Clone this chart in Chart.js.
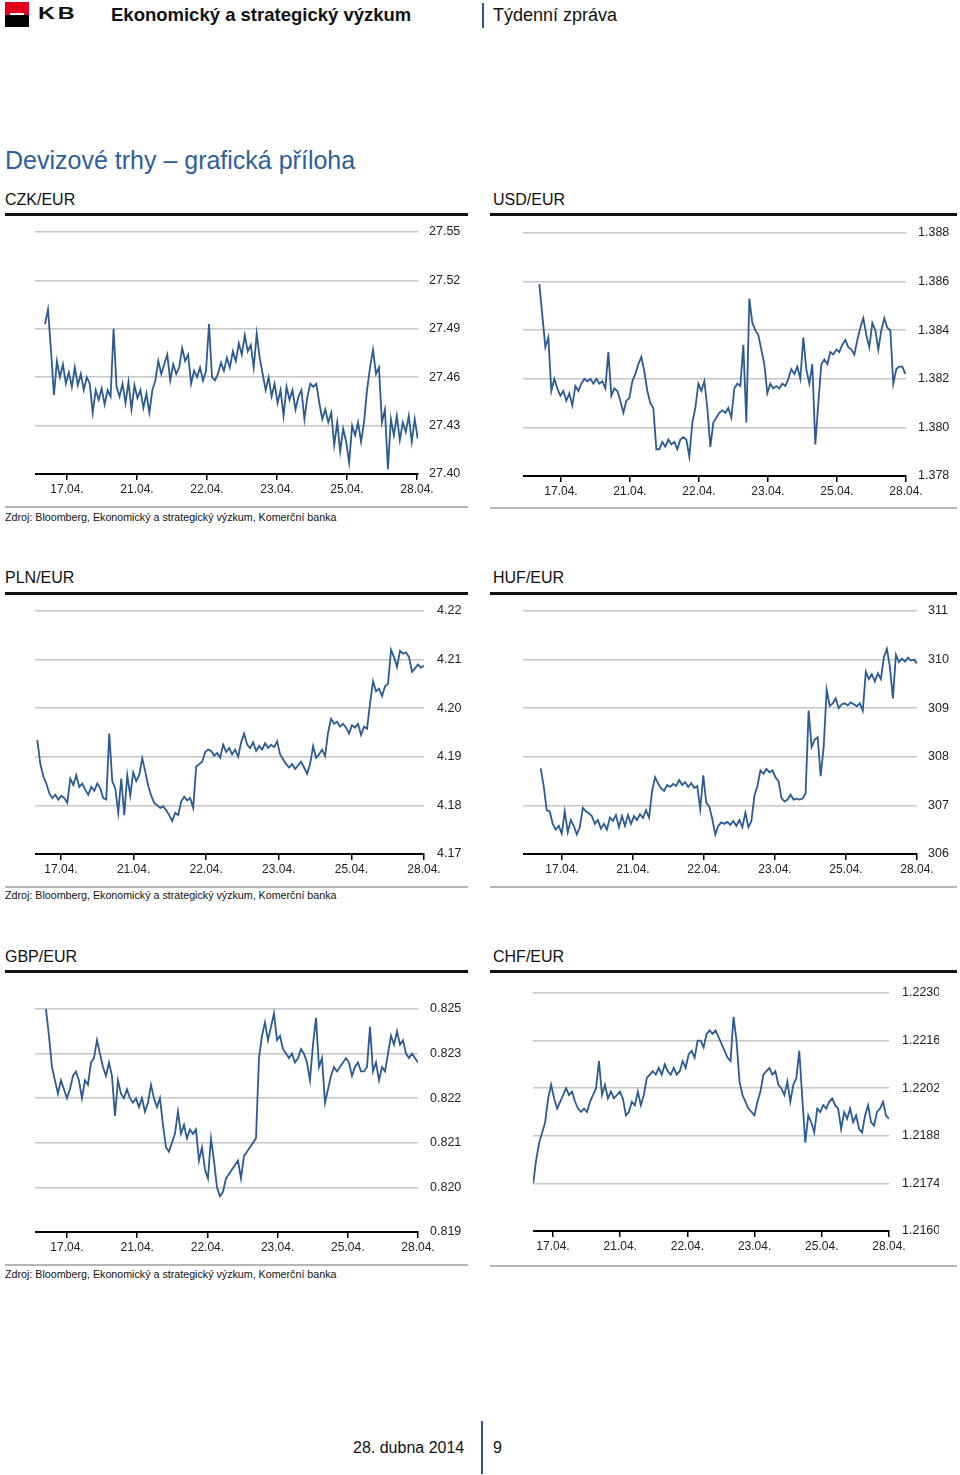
<!DOCTYPE html>
<html lang="cs">
<head>
<meta charset="utf-8">
<title>Devizové trhy – grafická příloha</title>
<script src="https://cdn.jsdelivr.net/npm/chart.js@4.4.1/dist/chart.umd.min.js"></script>
<style>
    html, body { margin: 0; padding: 0; background: #fff; }
    body {
        position: relative; width: 960px; height: 1475px; overflow: hidden;
        font-family: "Liberation Sans", Arial, sans-serif; color: #111;
    }
    .abs { position: absolute; white-space: nowrap; }
    .logo-red { left: 5px; top: 2px; width: 24px; height: 13px; background: #e3001b; }
    .logo-black { left: 5px; top: 15px; width: 24px; height: 12px; background: #000; }
    .logo-dash { left: 10px; top: 13px; width: 14px; height: 2px; background: #fff; }
    .kb { left: 38px; top: 5px; font-size: 17px; line-height: 17px; font-weight: bold; letter-spacing: 2px; transform: scaleX(1.38); transform-origin: left top; }
    .head { top: 6px; font-size: 18px; line-height: 18px; }
    .vline { width: 2px; background: #2b5a8e; }
    .title { left: 5px; top: 146px; font-size: 25px; line-height: 28px; color: #2d5f9a; }
    .ptitle { font-size: 16px; line-height: 18px; }
    .thick { height: 3px; background: #111; }
    .thin { height: 2px; background: #b5b5b5; }
    .src { left: 5px; font-size: 10.7px; line-height: 13px; }
    canvas { position: absolute; }
</style>
</head>
<body>
<div class="abs logo-red"></div>
<div class="abs logo-black"></div>
<div class="abs logo-dash"></div>
<div class="abs kb">KB</div>
<div class="abs head" style="left:111px;font-weight:bold;font-size:18.5px;">Ekonomický a strategický výzkum</div>
<div class="abs vline" style="left:482px;top:3px;height:25px;"></div>
<div class="abs head" style="left:493px;">Týdenní zpráva</div>

<div class="abs title">Devizové trhy – grafická příloha</div>

<div class="abs ptitle" style="left:5px;top:191px;">CZK/EUR</div>
<div class="abs ptitle" style="left:493px;top:191px;">USD/EUR</div>
<div class="abs thick" style="left:5px;top:213px;width:463px;"></div>
<div class="abs thick" style="left:490px;top:213px;width:467px;"></div>
<div class="abs thin" style="left:5px;top:506px;width:463px;"></div>
<div class="abs thin" style="left:490px;top:507px;width:467px;"></div>
<div class="abs src" style="top:511px;">Zdroj: Bloomberg, Ekonomický a strategický výzkum, Komerční banka</div>

<div class="abs ptitle" style="left:5px;top:569px;">PLN/EUR</div>
<div class="abs ptitle" style="left:493px;top:569px;">HUF/EUR</div>
<div class="abs thick" style="left:5px;top:592px;width:463px;"></div>
<div class="abs thick" style="left:490px;top:592px;width:467px;"></div>
<div class="abs thin" style="left:5px;top:886px;width:463px;"></div>
<div class="abs thin" style="left:490px;top:886px;width:467px;"></div>
<div class="abs src" style="top:889px;">Zdroj: Bloomberg, Ekonomický a strategický výzkum, Komerční banka</div>

<div class="abs ptitle" style="left:5px;top:948px;">GBP/EUR</div>
<div class="abs ptitle" style="left:493px;top:948px;">CHF/EUR</div>
<div class="abs thick" style="left:5px;top:970px;width:463px;"></div>
<div class="abs thick" style="left:490px;top:970px;width:467px;"></div>
<div class="abs thin" style="left:5px;top:1264px;width:463px;"></div>
<div class="abs thin" style="left:490px;top:1265px;width:467px;"></div>
<div class="abs src" style="top:1268px;">Zdroj: Bloomberg, Ekonomický a strategický výzkum, Komerční banka</div>

<canvas id="czkChart"></canvas>
<canvas id="usdChart"></canvas>
<canvas id="plnChart"></canvas>
<canvas id="hufChart"></canvas>
<canvas id="gbpChart"></canvas>
<canvas id="chfChart"></canvas>

<div class="abs" style="left:353px;top:1439px;font-size:16px;line-height:18px;">28. dubna 2014</div>
<div class="abs vline" style="left:481px;top:1421px;height:53px;"></div>
<div class="abs" style="left:493px;top:1439px;font-size:16px;line-height:18px;">9</div>

<script>
// popisky osy x (začátky obchodních dnů, pozice 1..6)
const xTicks = [1, 2, 3, 4, 5, 6];
const xLabels = ['17.04.', '21.04.', '22.04.', '23.04.', '25.04.', '28.04.'];

// CZK/EUR
const czkTicks = [27.40, 27.43, 27.46, 27.49, 27.52, 27.55];
const czkLabels = ['27.40', '27.43', '27.46', '27.49', '27.52', '27.55'];
const czkFrom = 0.686, czkTo = 6.01;
const czkValues = [27.493, 27.502, 27.477, 27.449, 27.470, 27.460, 27.468, 27.456, 27.463, 27.454,
    27.466, 27.455, 27.462, 27.452, 27.460, 27.456, 27.438, 27.452, 27.446, 27.453,
    27.443, 27.452, 27.448, 27.490, 27.454, 27.448, 27.456, 27.444, 27.457, 27.440,
    27.455, 27.447, 27.452, 27.441, 27.450, 27.438, 27.452, 27.458, 27.470, 27.462,
    27.468, 27.474, 27.458, 27.468, 27.462, 27.466, 27.478, 27.470, 27.474, 27.456,
    27.464, 27.460, 27.466, 27.458, 27.464, 27.493, 27.460, 27.458, 27.462, 27.469,
    27.464, 27.472, 27.466, 27.476, 27.470, 27.481, 27.474, 27.486, 27.476, 27.480,
    27.466, 27.487, 27.472, 27.462, 27.452, 27.460, 27.448, 27.456, 27.444, 27.452,
    27.436, 27.454, 27.446, 27.452, 27.440, 27.448, 27.452, 27.434, 27.448, 27.456,
    27.454, 27.456, 27.444, 27.434, 27.440, 27.432, 27.438, 27.418, 27.432, 27.414,
    27.428, 27.420, 27.407, 27.430, 27.424, 27.432, 27.420, 27.432, 27.452, 27.466,
    27.477, 27.462, 27.466, 27.432, 27.440, 27.403, 27.434, 27.424, 27.436, 27.421,
    27.432, 27.426, 27.436, 27.420, 27.434, 27.422];

// USD/EUR
const usdTicks = [1.378, 1.380, 1.382, 1.384, 1.386, 1.388];
const usdLabels = ['1.378', '1.380', '1.382', '1.384', '1.386', '1.388'];
const usdFrom = 0.686, usdTo = 5.99;
const usdValues = [1.3859, 1.3846, 1.3833, 1.3837, 1.3815, 1.3820, 1.3816, 1.3813, 1.3815, 1.3811,
    1.3814, 1.3809, 1.3817, 1.3815, 1.3818, 1.3820, 1.3819, 1.3820, 1.3818, 1.3820,
    1.3818, 1.3819, 1.3816, 1.3831, 1.3813, 1.3816, 1.3815, 1.3811, 1.3806, 1.3811,
    1.3812, 1.3819, 1.3822, 1.3826, 1.3829, 1.3823, 1.3815, 1.3810, 1.3808, 1.3791,
    1.3791, 1.3794, 1.3792, 1.3795, 1.3793, 1.3794, 1.3791, 1.3795, 1.3796, 1.3795,
    1.3788, 1.3802, 1.3808, 1.3818, 1.3815, 1.3819, 1.3808, 1.3792, 1.3802, 1.3804,
    1.3806, 1.3807, 1.3806, 1.3808, 1.3804, 1.3816, 1.3818, 1.3817, 1.3834, 1.3802,
    1.3853, 1.3843, 1.3840, 1.3838, 1.3832, 1.3826, 1.3814, 1.3818, 1.3816, 1.3817,
    1.3816, 1.3818, 1.3817, 1.3820, 1.3824, 1.3822, 1.3825, 1.3820, 1.3837, 1.3824,
    1.3818, 1.3826, 1.3793, 1.3810, 1.3826, 1.3828, 1.3826, 1.3831, 1.3830, 1.3832,
    1.3831, 1.3834, 1.3836, 1.3833, 1.3832, 1.3830, 1.3836, 1.3841, 1.3845, 1.3838,
    1.3833, 1.3843, 1.3840, 1.3832, 1.3840, 1.3845, 1.3841, 1.3840, 1.3818, 1.3824,
    1.3825, 1.3825, 1.3822];

// PLN/EUR
const plnTicks = [4.17, 4.18, 4.19, 4.20, 4.21, 4.22];
const plnLabels = ['4.17', '4.18', '4.19', '4.20', '4.21', '4.22'];
const plnFrom = 0.674, plnTo = 6.0;
const plnValues = [4.1935, 4.1885, 4.1860, 4.1845, 4.1825, 4.1815, 4.1822, 4.1812, 4.1820, 4.1815,
    4.1805, 4.1855, 4.1842, 4.1862, 4.1838, 4.1845, 4.1832, 4.1822, 4.1838, 4.1830,
    4.1845, 4.1835, 4.1815, 4.1812, 4.1948, 4.1850, 4.1835, 4.1785, 4.1855, 4.1780,
    4.1862, 4.1820, 4.1868, 4.1850, 4.1862, 4.1897, 4.1870, 4.1840, 4.1820, 4.1805,
    4.1800, 4.1795, 4.1798, 4.1790, 4.1780, 4.1768, 4.1785, 4.1780, 4.1808, 4.1818,
    4.1810, 4.1815, 4.1795, 4.1880, 4.1885, 4.1890, 4.1910, 4.1915, 4.1912, 4.1902,
    4.1908, 4.1898, 4.1925, 4.1910, 4.1918, 4.1905, 4.1915, 4.1900, 4.1930, 4.1948,
    4.1925, 4.1918, 4.1930, 4.1912, 4.1922, 4.1915, 4.1928, 4.1918, 4.1925, 4.1920,
    4.1932, 4.1905, 4.1895, 4.1885, 4.1878, 4.1885, 4.1875, 4.1882, 4.1890, 4.1878,
    4.1865, 4.1885, 4.1922, 4.1898, 4.1905, 4.1915, 4.1902, 4.1950, 4.1978, 4.1968,
    4.1972, 4.1962, 4.1968, 4.1960, 4.1948, 4.1965, 4.1960, 4.1968, 4.1945, 4.1962,
    4.1958, 4.2010, 4.2055, 4.2035, 4.2040, 4.2025, 4.2045, 4.2050, 4.2120, 4.2105,
    4.2085, 4.2118, 4.2112, 4.2115, 4.2105, 4.2075, 4.2082, 4.2090, 4.2083, 4.2088];

// HUF/EUR
const hufTicks = [306, 307, 308, 309, 310, 311];
const hufLabels = ['306', '307', '308', '309', '310', '311'];
const hufFrom = 0.700, hufTo = 6.0;
const hufValues = [307.76, 307.40, 306.90, 306.88, 306.62, 306.50, 306.58, 306.42, 306.88, 306.45,
    306.70, 306.58, 306.40, 306.55, 306.95, 306.88, 306.84, 306.78, 306.62, 306.70,
    306.52, 306.62, 306.50, 306.75, 306.68, 306.80, 306.55, 306.78, 306.58, 306.80,
    306.62, 306.78, 306.70, 306.82, 306.74, 306.90, 306.75, 307.30, 307.58, 307.45,
    307.35, 307.30, 307.42, 307.38, 307.44, 307.40, 307.52, 307.42, 307.48, 307.38,
    307.46, 307.36, 307.40, 306.92, 307.62, 307.05, 306.98, 306.72, 306.40, 306.58,
    306.65, 306.62, 306.66, 306.60, 306.68, 306.58, 306.70, 306.55, 306.85, 306.55,
    306.68, 307.20, 307.40, 307.72, 307.65, 307.75, 307.68, 307.72, 307.58, 307.50,
    307.15, 307.08, 307.12, 307.22, 307.12, 307.14, 307.12, 307.14, 307.25, 308.95,
    308.20, 308.35, 308.40, 307.60, 308.20, 309.38, 309.05, 309.10, 309.20, 309.00,
    309.08, 309.10, 309.06, 309.12, 309.08, 309.04, 309.10, 308.95, 309.75, 309.60,
    309.70, 309.55, 309.72, 309.60, 310.05, 310.22, 309.85, 309.20, 310.10, 309.95,
    310.02, 309.96, 310.04, 309.98, 310.00, 309.92];

// GBP/EUR (horní popisek v originále 0.825)
const gbpTicks = [0.819, 0.820, 0.821, 0.822, 0.823, 0.824];
const gbpLabels = ['0.819', '0.820', '0.821', '0.822', '0.823', '0.825'];
const gbpFrom = 0.70, gbpTo = 6.0;
const gbpValues = [0.8240, 0.8234, 0.8227, 0.8224, 0.8221, 0.8224, 0.8222, 0.8220, 0.8222, 0.8225,
    0.8226, 0.8224, 0.8220, 0.8224, 0.8223, 0.8228, 0.8229, 0.8233, 0.8230, 0.8227,
    0.8225, 0.8228, 0.8225, 0.8216, 0.8224, 0.8221, 0.8220, 0.8222, 0.8220, 0.8219,
    0.8220, 0.8218, 0.8220, 0.8217, 0.8219, 0.8223, 0.8220, 0.8218, 0.8220, 0.8214,
    0.8209, 0.8208, 0.8210, 0.8212, 0.8217, 0.8212, 0.8214, 0.8211, 0.8213, 0.8212,
    0.8213, 0.8206, 0.8209, 0.8204, 0.8202, 0.8211, 0.8206, 0.8200, 0.8198, 0.8199,
    0.8202, 0.8203, 0.8204, 0.8205, 0.8206, 0.8202, 0.8207, 0.8208, 0.8209, 0.8210,
    0.8211, 0.8229, 0.8234, 0.8237, 0.8233, 0.8236, 0.8239, 0.8233, 0.8234, 0.8231,
    0.8230, 0.8229, 0.8230, 0.8228, 0.8229, 0.8231, 0.8230, 0.8228, 0.8224, 0.8232,
    0.8238, 0.8227, 0.8229, 0.8219, 0.8222, 0.8225, 0.8227, 0.8226, 0.8227, 0.8228,
    0.8229, 0.8228, 0.8225, 0.8227, 0.8228, 0.8226, 0.8226, 0.8227, 0.8236, 0.8226,
    0.8228, 0.8224, 0.8227, 0.8226, 0.8230, 0.8234, 0.8232, 0.8235, 0.8232, 0.8233,
    0.8230, 0.8229, 0.8230, 0.8229, 0.8228];

// CHF/EUR
const chfTicks = [1.2160, 1.2174, 1.2188, 1.2202, 1.2216, 1.2230];
const chfLabels = ['1.2160', '1.2174', '1.2188', '1.2202', '1.2216', '1.2230'];
const chfFrom = 0.705, chfTo = 6.0;
const chfValues = [1.2174, 1.2181, 1.2186, 1.2189, 1.2192, 1.2199, 1.2203, 1.2199, 1.2196, 1.2198,
    1.2200, 1.2202, 1.2200, 1.2201, 1.2198, 1.2196, 1.2195, 1.2196, 1.2195, 1.2198,
    1.2200, 1.2202, 1.2210, 1.2200, 1.2203, 1.2199, 1.2201, 1.2199, 1.2200, 1.2201,
    1.2199, 1.2194, 1.2195, 1.2198, 1.2197, 1.2201, 1.2197, 1.2200, 1.2205, 1.2206,
    1.2207, 1.2206, 1.2208, 1.2206, 1.2209, 1.2207, 1.2206, 1.2208, 1.2206, 1.2207,
    1.2210, 1.2208, 1.2212, 1.2213, 1.2211, 1.2216, 1.2216, 1.2214, 1.2218, 1.2219,
    1.2218, 1.2219, 1.2217, 1.2215, 1.2213, 1.2211, 1.2210, 1.2223, 1.2216, 1.2204,
    1.2200, 1.2198, 1.2196, 1.2195, 1.2194, 1.2198, 1.2201, 1.2206, 1.2207, 1.2208,
    1.2206, 1.2207, 1.2203, 1.2202, 1.2200, 1.2204, 1.2198, 1.2203, 1.2205, 1.2213,
    1.2199, 1.2186, 1.2194, 1.2192, 1.2189, 1.2196, 1.2195, 1.2197, 1.2196, 1.2198,
    1.2199, 1.2197, 1.2196, 1.2190, 1.2195, 1.2193, 1.2196, 1.2192, 1.2194, 1.2190,
    1.2189, 1.2194, 1.2197, 1.2192, 1.2191, 1.2195, 1.2196, 1.2198, 1.2194, 1.2193];

const lineColor = '#2c5b94';
const fontFamily = '"Liberation Sans", Arial, sans-serif';
const axisW = 50;   // šířka pravé osy
const axisH = 28;   // výška osy x
const padTop = 24;  // musí být větší než půl popisku + odsazení popisku osy y

// vykreslí jeden graf; box = [vlevo, nahoře, vpravo, dole] plochy grafu na stránce
function drawChart(id, box, xMin, xMax, from, to, values, yTicks, yLabels, labelPad) {
    const canvas = document.getElementById(id);
    const w = box[2] - box[0] + axisW;
    const h = box[3] - box[1] + padTop + axisH;
    canvas.width = w;
    canvas.height = h;
    canvas.style.left = box[0] + 'px';
    canvas.style.top = (box[1] - padTop) + 'px';
    canvas.style.width = w + 'px';
    canvas.style.height = h + 'px';

    const step = (to - from) / (values.length - 1);
    const points = values.map((v, i) => ({ x: from + i * step, y: v }));

    new Chart(canvas.getContext('2d'), {
        type: 'line',
        data: {
            datasets: [{
                data: points,
                borderColor: lineColor,
                borderWidth: 1.8,
                pointRadius: 0,
                tension: 0,
                fill: false
            }]
        },
        options: {
            responsive: false,
            animation: false,
            devicePixelRatio: 1,
            layout: { padding: { top: padTop, left: 0, right: 0, bottom: 0 } },
            plugins: { legend: { display: false }, tooltip: { enabled: false } },
            scales: {
                x: {
                    type: 'linear',
                    min: xMin,
                    max: xMax,
                    afterBuildTicks: (scale) => { scale.ticks = xTicks.map(v => ({ value: v })); },
                    afterFit: (scale) => { scale.height = axisH; },
                    grid: { drawOnChartArea: false, drawTicks: true, tickLength: 6, color: '#000', lineWidth: 1.5 },
                    border: { display: true, color: '#000', width: 2, z: 1 },
                    ticks: {
                        autoSkip: false, maxRotation: 0, padding: 2, color: '#222',
                        font: { family: fontFamily, size: 12 },
                        callback: (value, index) => xLabels[index]
                    }
                },
                y: {
                    type: 'linear',
                    position: 'right',
                    min: yTicks[0],
                    max: yTicks[yTicks.length - 1],
                    afterBuildTicks: (scale) => { scale.ticks = yTicks.map(v => ({ value: v })); },
                    afterFit: (scale) => { scale.width = axisW; },
                    grid: { drawTicks: false, color: '#c6c6c6', lineWidth: 1.5 },
                    border: { display: false },
                    ticks: {
                        padding: labelPad, color: '#222',
                        font: { family: fontFamily, size: 12.5 },
                        callback: (value, index) => yLabels[index]
                    }
                }
            }
        }
    });
}

document.addEventListener('DOMContentLoaded', function() {
    drawChart('czkChart', [35, 232, 418, 474], 0.543, 6.014, czkFrom, czkTo, czkValues, czkTicks, czkLabels, 11);
    drawChart('usdChart', [523, 233, 906, 476], 0.449, 6.0, usdFrom, usdTo, usdValues, usdTicks, usdLabels, 12);
    drawChart('plnChart', [35, 611, 424, 854], 0.642, 6.0, plnFrom, plnTo, plnValues, plnTicks, plnLabels, 13);
    drawChart('hufChart', [523, 611, 917, 854], 0.451, 6.0, hufFrom, hufTo, hufValues, hufTicks, hufLabels, 11);
    drawChart('gbpChart', [35, 1009, 418, 1232], 0.544, 6.0, gbpFrom, gbpTo, gbpValues, gbpTicks, gbpLabels, 12);
    drawChart('chfChart', [533, 993, 889, 1231], 0.702, 6.0, chfFrom, chfTo, chfValues, chfTicks, chfLabels, 13);
});
</script>
</body>
</html>
